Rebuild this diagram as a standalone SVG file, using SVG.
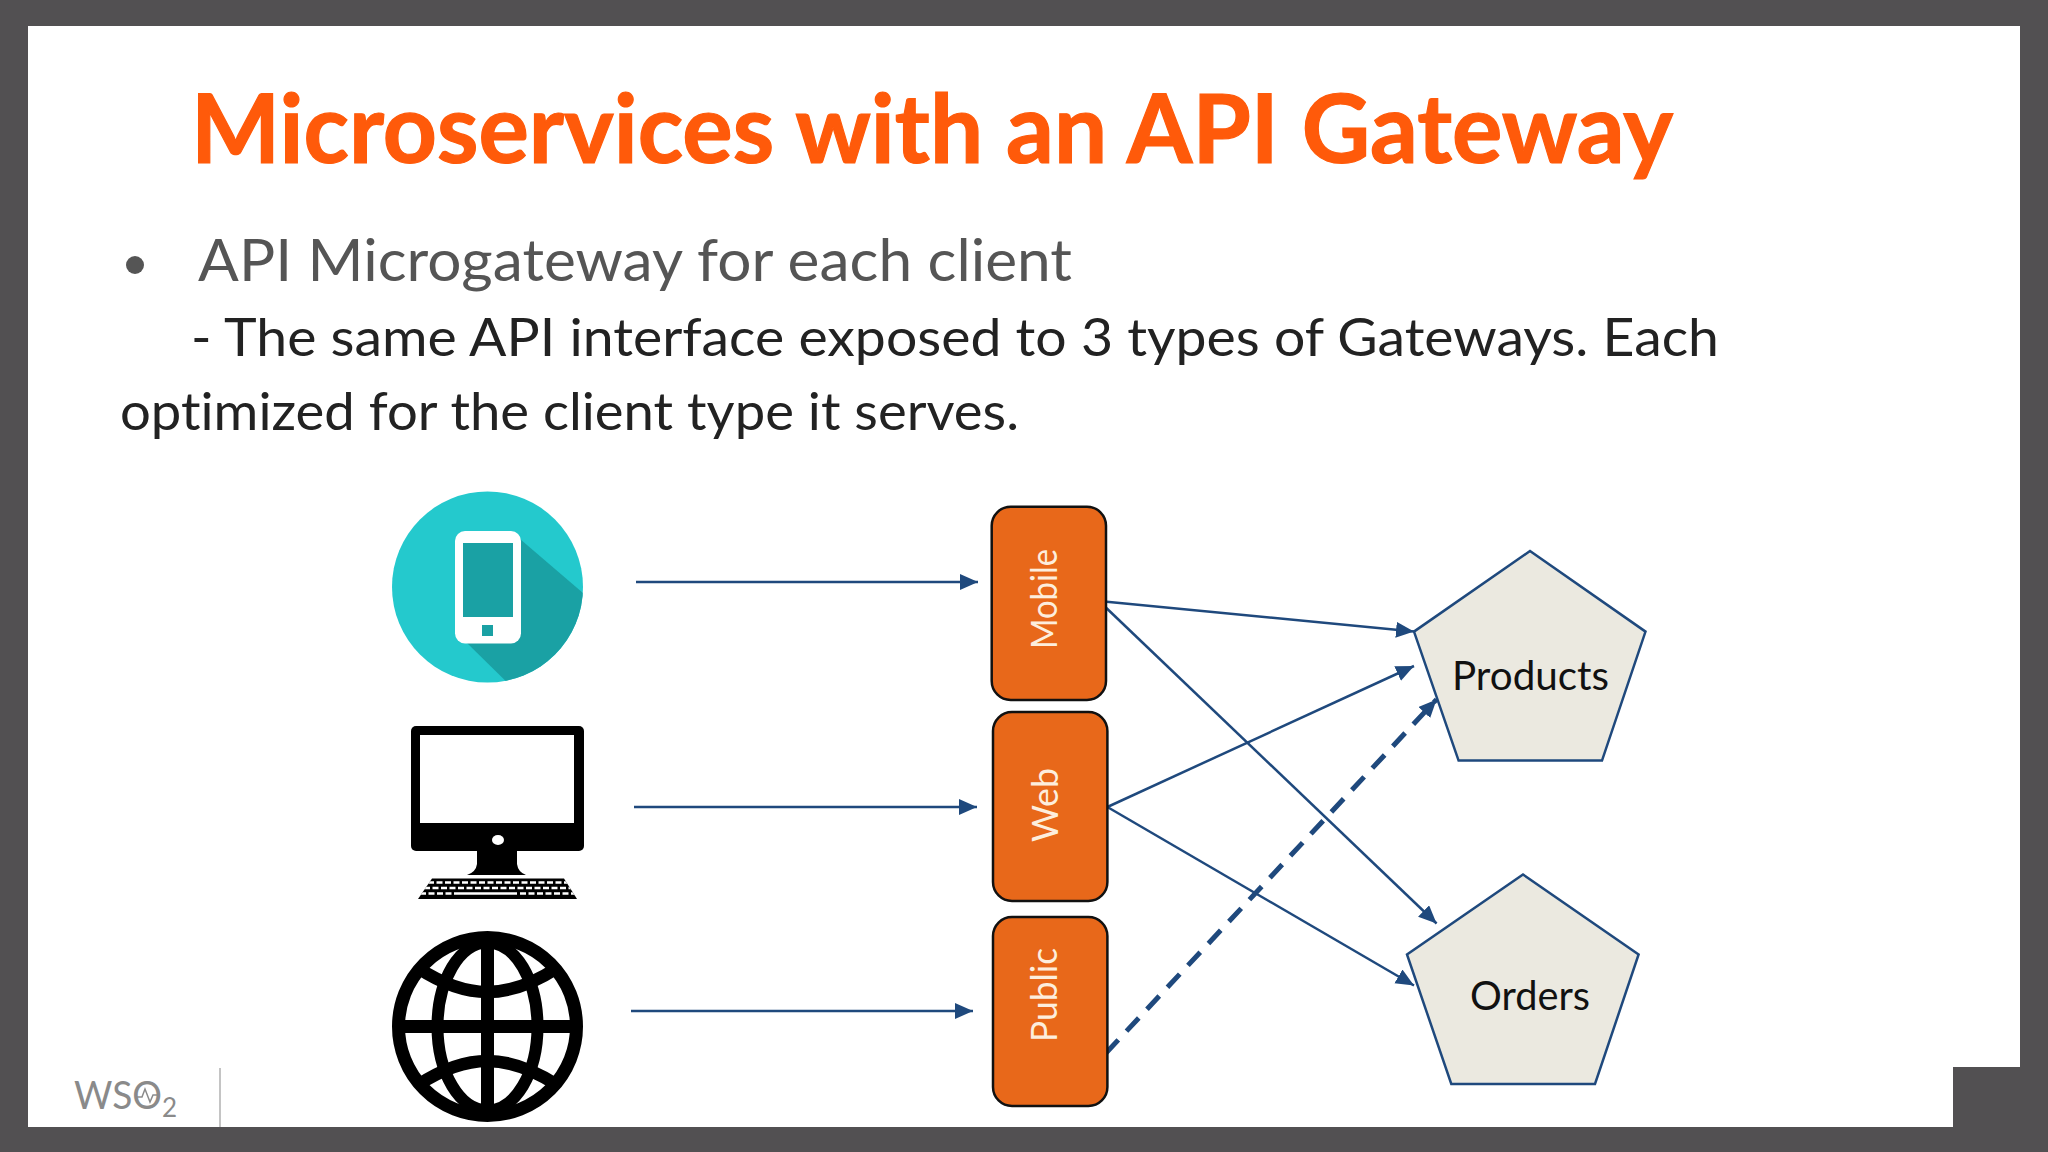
<svg xmlns="http://www.w3.org/2000/svg" width="2048" height="1152" viewBox="0 0 2048 1152">
<style>
text{font-variant-ligatures:none}
.conn{fill:none;stroke:#1f497d;stroke-width:2.5;marker-end:url(#arrow)}
.gw{fill:#e8681a;stroke:#111;stroke-width:2.5}
.gwt{font-family:Lato,sans-serif;font-size:37px;fill:#fdeedd}
.svc{fill:#ebe9e0;stroke:#1f497d;stroke-width:2.5}
.svct{font-family:Lato,sans-serif;font-size:40px;fill:#111}
.body{font-family:Lato,sans-serif;font-size:53px;fill:#222}
</style>
<defs>
<marker id="arrow" markerUnits="userSpaceOnUse" markerWidth="20" markerHeight="18" refX="18" refY="8" orient="auto"><path d="M0 0L18 8L0 16Z" fill="#1f497d"/></marker>
<clipPath id="cc"><circle cx="487.5" cy="587" r="95.5"/></clipPath>
<clipPath id="kb"><path d="M432 878.5H564L577 899H418Z"/></clipPath>
</defs>
<rect width="2048" height="1152" fill="#525052"/>
<path d="M28 26H2020V1067H1953V1127H28Z" fill="#fff"/>
<text x="191" y="163" font-family="Lato,sans-serif" font-weight="700" font-size="95" fill="#ff5a0a" stroke="#ff5a0a" stroke-width="1.200" textLength="1482" lengthAdjust="spacingAndGlyphs">Microservices with an API Gateway</text>
<circle cx="135" cy="265" r="9" fill="#555"/>
<text x="198" y="281" class="body" style="fill:#555;font-size:58px" textLength="874" lengthAdjust="spacingAndGlyphs">API Microgateway for each client</text>
<text x="191" y="356" class="body" textLength="1528" lengthAdjust="spacingAndGlyphs">- The same API interface exposed to 3 types of Gateways. Each</text>
<text x="120" y="430" class="body" textLength="899" lengthAdjust="spacingAndGlyphs">optimized for the client type it serves.</text>

<g id="client-mobile">
<circle cx="487.5" cy="587" r="95.5" fill="#24c9cd"/>
<path d="M520 539L590 599V700H525L467 643Z" fill="#1aa1a4" clip-path="url(#cc)"/>
<rect x="455" y="531" width="66" height="112.500" rx="10" fill="#fff"/>
<rect x="463" y="543" width="50" height="74" fill="#1aa1a4"/>
<rect x="482" y="625" width="11" height="11" fill="#1aa1a4"/>
</g>
<g id="client-desktop">
<rect x="411" y="726" width="173" height="125" rx="5" fill="#000"/>
<rect x="420" y="735" width="154" height="88" fill="#fff"/>
<ellipse cx="498" cy="840" rx="6" ry="5" fill="#fff"/>
<path d="M477 851H517V864Q518 872 526 875H467Q476 872 477 864Z" fill="#000"/>
<path d="M432 878.500H564L577 899H418Z" fill="#000"/>
<g clip-path="url(#kb)" fill="none" stroke="#fff" stroke-width="2.500" stroke-dasharray="6 2.500">
<path d="M428 882.500H570"/><path d="M424 888H574"/><path d="M420 893.500H460"/><path d="M520 893.500H576"/>
</g>
<path d="M460 893.500H517" stroke="#fff" stroke-width="2.500"/>
</g>
<g id="client-public" fill="none" stroke="#000" stroke-width="13">
<circle cx="487.500" cy="1026.500" r="89"/>
<ellipse cx="487.500" cy="1026.500" rx="50" ry="84" stroke-width="12"/>
<path d="M487.500 937V1116M398 1026.500H577"/>
<path stroke-width="12.500" d="M418 968C441 983 465 992 487.500 992C510 992 534 983 557 968M418 1085C441 1070 465 1061 487.500 1061C510 1061 534 1070 557 1085"/>
</g>

<g id="connectors">
<path class="conn" d="M636 582H978"/>
<path class="conn" d="M634 807H977"/>
<path class="conn" d="M631 1011H973"/>
<path class="conn" d="M1099 601L1414 631.600"/>
<path class="conn" d="M1099 601L1436.600 923.500"/>
<path class="conn" d="M1107.400 807L1414 666"/>
<path class="conn" d="M1107.400 807L1414 985.500"/>
<path class="conn" d="M1106 1053L1436.600 699.400" style="stroke-width:5;stroke-dasharray:18 12"/>
</g>

<g id="gw-mobile"><rect class="gw" x="991.700" y="506.700" width="114.300" height="193.300" rx="19"/><text class="gwt" transform="translate(1057 649) rotate(-90)" textLength="100" lengthAdjust="spacingAndGlyphs">Mobile</text></g>
<g id="gw-web"><rect class="gw" x="993" y="712" width="114.400" height="189" rx="19"/><text class="gwt" transform="translate(1058 842) rotate(-90)" textLength="74" lengthAdjust="spacingAndGlyphs">Web</text></g>
<g id="gw-public"><rect class="gw" x="993" y="917" width="114.400" height="189" rx="19"/><text class="gwt" transform="translate(1057.400 1042) rotate(-90)" textLength="94" lengthAdjust="spacingAndGlyphs">Public</text></g>

<g id="svc-products"><path class="svc" d="M1530 551L1645.500 631.600L1602 760.600H1458.600L1414 631.600Z"/><text class="svct" x="1452" y="690" textLength="157" lengthAdjust="spacingAndGlyphs">Products</text></g>
<g id="svc-orders"><path class="svc" d="M1523 874.500L1638.600 954.500L1595 1084H1451.300L1407 954.500Z"/><text class="svct" x="1470" y="1010" textLength="120" lengthAdjust="spacingAndGlyphs">Orders</text></g>

<g id="logo">
<text x="74" y="1109" font-family="Lato,sans-serif" font-size="38" fill="#8a8a8a" textLength="88" lengthAdjust="spacingAndGlyphs">WSO</text>
<text x="162" y="1117" font-family="Lato,sans-serif" font-size="26" fill="#8a8a8a">2</text>
<path d="M137 1097H142L145 1089L150 1102L153 1095H159" fill="none" stroke="#8a8a8a" stroke-width="1.500"/>
<path d="M220 1068V1127" stroke="#c4c4c4" stroke-width="2"/>
</g>
</svg>
